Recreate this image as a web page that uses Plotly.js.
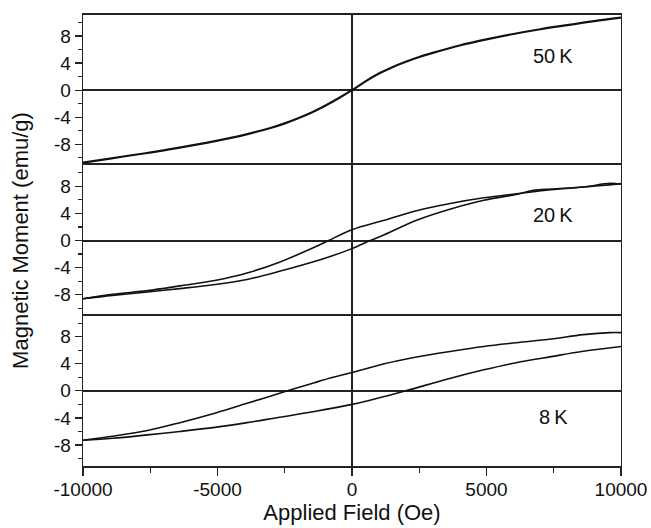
<!DOCTYPE html>
<html>
<head>
<meta charset="utf-8">
<script src="https://cdn.plot.ly/plotly-3.0.1.min.js"></script>
<style>html,body{margin:0;padding:0;background:#fff;}#chart{width:651px;height:528px;}</style>
</head>
<body>
<div id="chart"></div>
<script>
// 50 K (both branches coincide)
var x50 = [-10000,-9000,-8000,-7000,-6000,-5000,-4000,-3000,-2500,-2000,-1500,-1000,-500,0,500,1000,1500,2000,2500,3000,4000,5000,6000,7000,8000,9000,10000];
var y50 = [-10.7,-10.1,-9.5,-8.9,-8.2,-7.45,-6.6,-5.55,-4.9,-4.15,-3.3,-2.3,-1.2,0,1.3,2.45,3.4,4.2,4.9,5.5,6.6,7.5,8.3,9.0,9.6,10.2,10.7];

// 20 K descending branch (+H -> -H)
var x20down = [10000,9600,8600,7400,6100,4900,3700,2400,1200,0,-870,-1400,-2700,-3900,-5100,-6400,-7600,-8900,-10000];
var y20down = [8.3,8.45,7.9,7.5,6.9,6.3,5.5,4.4,3.0,1.6,0,-1.0,-3.2,-4.8,-5.9,-6.7,-7.4,-7.95,-8.6];
// 20 K ascending branch (-H -> +H)
var x20up = [-10000,-8900,-7600,-6400,-5100,-3900,-2700,-1400,-700,0,680,1200,2400,3700,4900,6100,6750,7400,8600,10000];
var y20up = [-8.6,-8.1,-7.6,-7.1,-6.5,-5.75,-4.55,-3.1,-2.2,-1.2,0,0.85,3.0,4.7,5.95,6.8,7.4,7.6,7.9,8.4];

// 8 K descending branch
var x8down = [10000,9600,8600,7400,6100,4900,3700,2400,1200,0,-700,-1400,-2400,-3900,-5100,-6400,-7600,-8900,-10000];
var y8down = [8.6,8.6,8.3,7.65,7.1,6.55,5.85,5.0,4.0,2.7,2.0,1.2,0,-1.85,-3.3,-4.7,-5.85,-6.7,-7.3];
// 8 K ascending branch
var x8up = [-10000,-8900,-7600,-6400,-5100,-3900,-2700,-1400,0,600,1200,2000,3700,4900,6100,7400,8600,10000];
var y8up = [-7.3,-7.0,-6.5,-6.0,-5.4,-4.7,-3.9,-3.05,-2.0,-1.45,-0.85,0,1.9,3.1,4.15,5.05,5.85,6.55];

var panelLabels = ['50\u2009K','20\u2009K','8\u2009K'];
var labelX = [7480, 7480, 7480];
var labelY = [5.1, 3.8, -3.9];
var yTicks = [-8,-4,0,4,8];
var xTicks = [-10000,-5000,0,5000,10000];

var lineStyle = {color:'#111', width:1.6, shape:'spline', smoothing:1};
var traces = [
  {x:x50, y:y50, xaxis:'x', yaxis:'y', mode:'lines', line:Object.assign({}, lineStyle, {width:2.2})},
  {x:x20down, y:y20down, xaxis:'x2', yaxis:'y2', mode:'lines', line:lineStyle},
  {x:x20up, y:y20up, xaxis:'x2', yaxis:'y2', mode:'lines', line:lineStyle},
  {x:x8down, y:y8down, xaxis:'x3', yaxis:'y3', mode:'lines', line:lineStyle},
  {x:x8up, y:y8up, xaxis:'x3', yaxis:'y3', mode:'lines', line:lineStyle}
];

var font = {family:'"Liberation Sans", Arial, sans-serif', color:'#111'};
function yax(dom, title) {
  var a = {
    domain: dom, range:[-11.1, 11.1], tickvals: yTicks, ticktext: yTicks.map(String),
    ticks:'outside', ticklen:7, tickwidth:1.3, tickcolor:'#222',
    minor:{dtick:2, tick0:0, ticks:'outside', ticklen:4, tickwidth:1.2, tickcolor:'#222'},
    showline:true, mirror:true, linecolor:'#222', linewidth:1.4,
    zeroline:true, zerolinecolor:'#222', zerolinewidth:2,
    showgrid:false, tickfont:{family:font.family, size:19, color:'#111'}, fixedrange:true
  };
  if (title) a.title = {text:title, font:{family:font.family, size:22, color:'#111'}, standoff:19};
  return a;
}
function xax(anchor, showLabels, title) {
  var a = {
    anchor: anchor, range:[-10000, 10000], matches: anchor === 'y3' ? undefined : 'x3',
    tickvals: xTicks, ticktext: xTicks.map(String),
    showline:true, linecolor:'#222', linewidth:2,
    zeroline:true, zerolinecolor:'#222', zerolinewidth:1.5,
    showgrid:false, fixedrange:true,
    tickfont:{family:font.family, size:19, color:'#111'}
  };
  if (showLabels) {
    a.mirror = true; a.side = 'bottom';
    a.ticks = 'outside'; a.ticklen = 8; a.tickwidth = 1.3; a.tickcolor = '#222';
    a.ticklabelstandoff = -3;
    a.minor = {dtick:2500, tick0:0, ticks:'outside', ticklen:5, tickwidth:1.2, tickcolor:'#222'};
  } else {
    a.mirror = false; a.side = 'top';
    a.ticks = ''; a.showticklabels = false;
  }
  if (title) a.title = {text:title, font:{family:font.family, size:22, color:'#111'}, standoff:0};
  return a;
}

var layout = {
  width:651, height:528,
  margin:{l:83, r:30, t:15, b:62},
  paper_bgcolor:'#fff', plot_bgcolor:'#fff',
  showlegend:false, font:font,
  xaxis: xax('y', false),
  xaxis2: xax('y2', false),
  xaxis3: xax('y3', true, 'Applied Field (Oe)'),
  yaxis: yax([2/3, 1]),
  yaxis2: yax([1/3, 2/3], 'Magnetic Moment (emu/g)'),
  yaxis3: yax([0, 1/3]),
  annotations: panelLabels.map(function(t, i){
    return {text:t, x:labelX[i], y:labelY[i], xref:(i===0?'x':'x'+(i+1)), yref:(i===0?'y':'y'+(i+1)),
            showarrow:false, font:{family:font.family, size:20, color:'#111'}};
  })
};

Plotly.newPlot('chart', traces, layout, {staticPlot:true, displayModeBar:false});
</script>
</body>
</html>
